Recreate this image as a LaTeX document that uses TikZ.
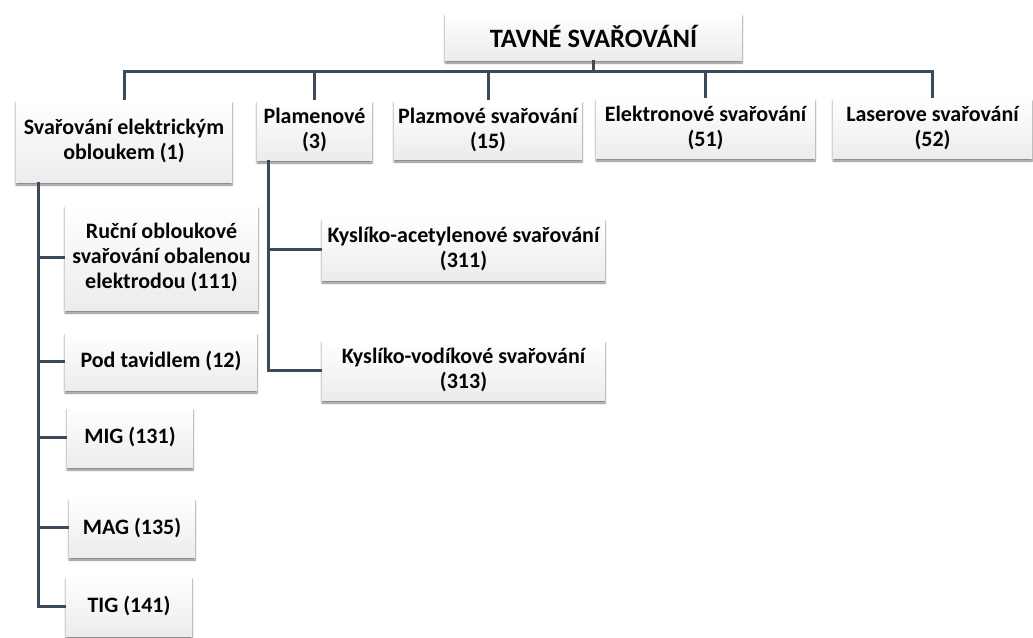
\documentclass[tikz,border=0pt]{standalone}
\usepackage{fontspec}
\setmainfont{Carlito}
\usetikzlibrary{shadows.blur,calc}
\definecolor{lineC}{HTML}{3C4A5C}
\definecolor{txtC}{HTML}{050505}
\tikzset{
  box/.style={rectangle, inner sep=0pt, align=center, text=txtC,
    top color=white, bottom color=gray!15, draw=none,
    font=\fontsize{22}{25}\selectfont\bfseries,
    blur shadow={shadow xshift=0pt, shadow yshift=-3pt, shadow blur steps=6, shadow opacity=50}},
  conn/.style={draw=lineC, line width=3pt},
}
\begin{document}
\begin{tikzpicture}[x=1pt,y=-1pt]
\useasboundingbox (0,0) rectangle (1033,637);
\coordinate (bus) at (0,71);
\coordinate (v1) at (38,182);
\coordinate (v3) at (268,160);
\node[box, minimum width=297, minimum height=47, font=\fontsize{26.5}{30}\selectfont\bfseries] (top) at (593.5,36.5) {TAVNÉ SVAŘOVÁNÍ};
\node[box, minimum width=216, minimum height=82] (b1) at (124,141) {Svařování elektrickým\\obloukem (1)};
\node[box, minimum width=115, minimum height=60] (b3) at (314.5,130) {Plamenové\\(3)};
\node[box, minimum width=188, minimum height=59] (b15) at (488,129.5) {Plazmové svařování\\(15)};
\node[box, minimum width=219, minimum height=60] (b51) at (705.5,128) {Elektronové svařování\\(51)};
\node[box, minimum width=199, minimum height=60] (b52) at (932.5,128) {Laserove svařování\\(52)};
\node[box, minimum width=193, minimum height=105] (ruc) at (161.5,257.5) {Ruční obloukové\\svařování obalenou\\elektrodou (111)};
\node[box, minimum width=192, minimum height=58] (pod) at (161,361) {Pod tavidlem (12)};
\node[box, minimum width=126, minimum height=60] (mig) at (130,437) {MIG (131)};
\node[box, minimum width=126, minimum height=59] (mag) at (132,527.5) {MAG (135)};
\node[box, minimum width=126, minimum height=60] (tig) at (129,606) {TIG (141)};
\node[box, minimum width=283, minimum height=62] (ka) at (463.5,249) {Kyslíko-acetylenové svařování\\(311)};
\node[box, minimum width=283, minimum height=60] (kv) at (463.5,370) {Kyslíko-vodíkové svařování\\(313)};
% top level
\draw[conn] (b1.north) -- (b1.north |- bus) -- (b52.north |- bus) -- (b52.north);
\draw[conn] (top.south) -- (top.south |- bus);
\draw[conn] (b3.north) -- (b3.north |- bus);
\draw[conn] (b15.north) -- (b15.north |- bus);
\draw[conn] (b51.north) -- (b51.north |- bus);
% arc welding children
\draw[conn] (v1) |- (tig.west);
\draw[conn] (ruc.west) -- (ruc.west -| v1);
\draw[conn] (pod.west) -- (pod.west -| v1);
\draw[conn] (mig.west) -- (mig.west -| v1);
\draw[conn] (mag.west) -- (mag.west -| v1);
% flame children
\draw[conn] (v3) |- (kv.west);
\draw[conn] (ka.west) -- (ka.west -| v3);
\end{tikzpicture}
\end{document}
